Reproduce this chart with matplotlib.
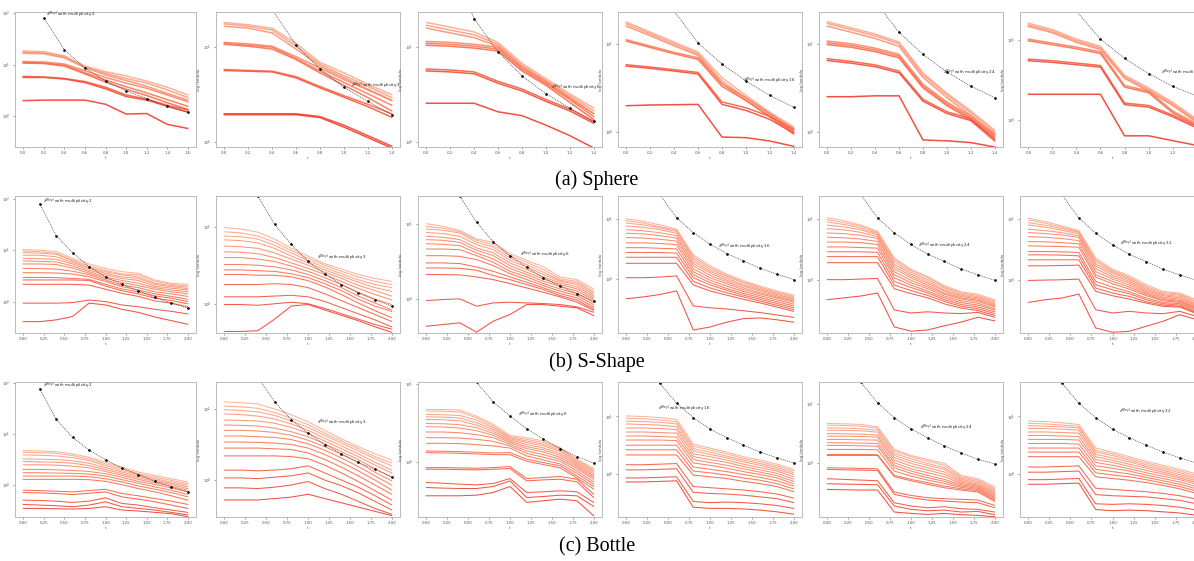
import matplotlib
matplotlib.use('Agg')
import matplotlib.pyplot as plt
import matplotlib.ticker as mticker
import numpy as np

# log10 of the eigenvalues, one row per eigenvalue (top line first)
t_sphere_1 = [0.0, 0.2, 0.4, 0.6, 0.8, 1.0, 1.2, 1.4, 1.6]
t_sphere = [0.0, 0.2, 0.4, 0.6, 0.8, 1.0, 1.2, 1.4]
t_shape = [0.0, 0.2, 0.4, 0.6, 0.8, 1.0, 1.2, 1.4, 1.6, 1.8, 2.0]

sphere_1 = [
    [1.26, 1.25, 1.17, 0.97, 0.86, 0.78, 0.68, 0.56, 0.41],
    [1.24, 1.23, 1.15, 0.95, 0.83, 0.73, 0.64, 0.51, 0.36],
    [1.22, 1.21, 1.13, 0.94, 0.80, 0.69, 0.58, 0.44, 0.31],
    [1.06, 1.05, 1.01, 0.88, 0.75, 0.64, 0.54, 0.41, 0.28],
    [1.04, 1.03, 0.99, 0.84, 0.70, 0.57, 0.45, 0.32, 0.19],
    [1.03, 1.02, 0.97, 0.82, 0.66, 0.52, 0.40, 0.26, 0.13],
    [0.77, 0.76, 0.73, 0.67, 0.56, 0.41, 0.33, 0.21, 0.12],
    [0.75, 0.75, 0.72, 0.65, 0.53, 0.38, 0.31, 0.19, 0.08],
    [0.30, 0.31, 0.31, 0.31, 0.23, 0.04, 0.05, -0.16, -0.24],
]
sphere_2 = [
    [1.26, 1.235, 1.20, 1.04, 0.84, 0.73, 0.61, 0.50],
    [1.245, 1.22, 1.18, 1.01, 0.82, 0.70, 0.59, 0.47],
    [1.22, 1.20, 1.15, 0.98, 0.80, 0.68, 0.56, 0.44],
    [1.05, 1.035, 1.01, 0.90, 0.78, 0.66, 0.55, 0.44],
    [1.04, 1.02, 1.00, 0.88, 0.75, 0.63, 0.51, 0.39],
    [1.03, 1.01, 0.98, 0.87, 0.73, 0.60, 0.47, 0.33],
    [0.765, 0.755, 0.747, 0.69, 0.586, 0.49, 0.40, 0.30],
    [0.754, 0.747, 0.74, 0.677, 0.572, 0.474, 0.375, 0.263],
    [0.30, 0.30, 0.30, 0.30, 0.27, 0.18, 0.07, -0.04],
    [0.29, 0.29, 0.29, 0.29, 0.26, 0.16, 0.05, -0.06],
]
sphere_3 = [
    [1.26, 1.21, 1.16, 1.05, 0.83, 0.67, 0.51, 0.36],
    [1.23, 1.18, 1.13, 1.03, 0.81, 0.65, 0.49, 0.33],
    [1.20, 1.15, 1.10, 1.01, 0.79, 0.62, 0.46, 0.30],
    [1.06, 1.05, 1.03, 1.00, 0.79, 0.64, 0.47, 0.30],
    [1.04, 1.03, 1.01, 0.98, 0.77, 0.62, 0.45, 0.27],
    [1.02, 1.01, 0.99, 0.96, 0.75, 0.60, 0.42, 0.24],
    [0.77, 0.76, 0.74, 0.64, 0.56, 0.45, 0.35, 0.22],
    [0.75, 0.74, 0.72, 0.62, 0.54, 0.43, 0.33, 0.20],
    [0.41, 0.41, 0.41, 0.32, 0.28, 0.18, 0.07, -0.06],
]
sphere_4 = [
    [1.245, 1.132, 1.019, 0.906, 0.615, 0.415, 0.226, 0.057],
    [1.226, 1.113, 1.0, 0.887, 0.577, 0.385, 0.2, 0.011],
    [1.2, 1.091, 0.977, 0.868, 0.547, 0.358, 0.17, -0.026],
    [1.045, 0.974, 0.902, 0.842, 0.547, 0.389, 0.208, 0.038],
    [1.03, 0.958, 0.887, 0.823, 0.517, 0.358, 0.177, 0.0],
    [0.762, 0.736, 0.706, 0.675, 0.34, 0.275, 0.177, 0.026],
    [0.747, 0.721, 0.691, 0.657, 0.313, 0.245, 0.143, -0.011],
    [0.298, 0.306, 0.309, 0.313, -0.057, -0.064, -0.102, -0.162],
]
sphere_5 = [
    [1.25, 1.18, 1.11, 1.02, 0.67, 0.44, 0.24, 0.02],
    [1.23, 1.16, 1.09, 1.00, 0.65, 0.42, 0.22, 0.0],
    [1.20, 1.13, 1.06, 0.97, 0.62, 0.39, 0.19, -0.03],
    [1.03, 1.00, 0.95, 0.88, 0.54, 0.34, 0.18, -0.02],
    [1.01, 0.98, 0.93, 0.86, 0.52, 0.32, 0.16, -0.04],
    [0.99, 0.96, 0.91, 0.84, 0.50, 0.30, 0.14, -0.06],
    [0.83, 0.80, 0.76, 0.69, 0.37, 0.23, 0.15, -0.08],
    [0.81, 0.78, 0.74, 0.67, 0.35, 0.21, 0.13, -0.10],
    [0.40, 0.40, 0.41, 0.41, -0.09, -0.10, -0.12, -0.17],
]
sphere_6 = [
    [1.21, 1.13, 1.01, 0.92, 0.56, 0.40, 0.22, 0.01],
    [1.19, 1.11, 0.99, 0.90, 0.54, 0.38, 0.20, -0.01],
    [1.17, 1.09, 0.97, 0.88, 0.52, 0.36, 0.18, -0.03],
    [1.01, 0.96, 0.91, 0.85, 0.43, 0.36, 0.11, -0.05],
    [0.99, 0.94, 0.89, 0.83, 0.41, 0.34, 0.09, -0.07],
    [0.76, 0.74, 0.71, 0.68, 0.21, 0.18, 0.06, -0.08],
    [0.74, 0.72, 0.69, 0.66, 0.19, 0.16, 0.04, -0.10],
    [0.32, 0.32, 0.32, 0.32, -0.20, -0.20, -0.26, -0.32],
]

sshape_1 = [
    [1.01, 1.00, 0.97, 0.84, 0.73, 0.645, 0.58, 0.55, 0.42, 0.355, 0.335],
    [0.98, 0.97, 0.935, 0.81, 0.69, 0.61, 0.535, 0.52, 0.39, 0.335, 0.30],
    [0.95, 0.94, 0.92, 0.79, 0.66, 0.58, 0.52, 0.48, 0.355, 0.31, 0.28],
    [0.90, 0.90, 0.87, 0.76, 0.645, 0.55, 0.48, 0.45, 0.335, 0.29, 0.25],
    [0.84, 0.83, 0.82, 0.73, 0.61, 0.52, 0.45, 0.41, 0.30, 0.26, 0.226],
    [0.79, 0.78, 0.77, 0.69, 0.58, 0.48, 0.41, 0.355, 0.27, 0.226, 0.19],
    [0.73, 0.73, 0.72, 0.65, 0.55, 0.45, 0.37, 0.31, 0.24, 0.19, 0.15],
    [0.645, 0.64, 0.63, 0.59, 0.52, 0.42, 0.32, 0.27, 0.19, 0.15, 0.10],
    [0.56, 0.56, 0.555, 0.535, 0.48, 0.39, 0.29, 0.226, 0.15, 0.10, 0.045],
    [0.47, 0.47, 0.465, 0.45, 0.43, 0.335, 0.245, 0.19, 0.11, 0.065, 0.0],
    [0.42, 0.42, 0.42, 0.42, 0.41, 0.30, 0.21, 0.15, 0.065, 0.02, -0.045],
    [0.335, 0.335, 0.335, 0.335, 0.32, 0.24, 0.16, 0.10, 0.013, -0.03, -0.10],
    [-0.03, -0.03, -0.03, -0.02, 0.03, 0.0, -0.065, -0.10, -0.15, -0.19, -0.24],
    [-0.39, -0.39, -0.355, -0.29, -0.03, -0.065, -0.15, -0.21, -0.30, -0.37, -0.44],
]
sshape_2 = [
    [0.99, 0.97, 0.93, 0.84, 0.72, 0.62, 0.52, 0.45, 0.38, 0.33, 0.29],
    [0.935, 0.92, 0.88, 0.80, 0.69, 0.59, 0.50, 0.42, 0.35, 0.29, 0.25],
    [0.88, 0.87, 0.84, 0.76, 0.66, 0.56, 0.47, 0.39, 0.31, 0.25, 0.21],
    [0.83, 0.82, 0.79, 0.72, 0.62, 0.53, 0.44, 0.36, 0.28, 0.21, 0.16],
    [0.75, 0.74, 0.72, 0.66, 0.58, 0.50, 0.41, 0.33, 0.24, 0.17, 0.10],
    [0.675, 0.67, 0.65, 0.60, 0.53, 0.46, 0.38, 0.29, 0.20, 0.12, 0.05],
    [0.60, 0.60, 0.58, 0.55, 0.49, 0.42, 0.34, 0.25, 0.15, 0.06, -0.01],
    [0.51, 0.51, 0.50, 0.48, 0.44, 0.38, 0.30, 0.21, 0.10, 0.01, -0.08],
    [0.44, 0.44, 0.43, 0.42, 0.39, 0.34, 0.26, 0.17, 0.06, -0.03, -0.10],
    [0.38, 0.38, 0.37, 0.37, 0.35, 0.30, 0.22, 0.12, 0.01, -0.09, -0.18],
    [0.25, 0.25, 0.25, 0.26, 0.25, 0.21, 0.13, 0.04, -0.05, -0.14, -0.23],
    [0.09, 0.09, 0.09, 0.10, 0.11, 0.09, 0.03, -0.05, -0.13, -0.21, -0.30],
    [-0.01, -0.01, -0.02, 0.0, 0.02, 0.0, -0.06, -0.13, -0.20, -0.27, -0.33],
    [-0.36, -0.36, -0.35, -0.20, -0.03, -0.01, -0.08, -0.15, -0.22, -0.30, -0.37],
]
sshape_3 = [
    [1.0, 0.964, 0.911, 0.796, 0.751, 0.60, 0.511, 0.422, 0.289, 0.253, 0.129],
    [0.964, 0.938, 0.893, 0.778, 0.72, 0.573, 0.484, 0.387, 0.262, 0.231, 0.098],
    [0.929, 0.911, 0.876, 0.751, 0.689, 0.542, 0.453, 0.351, 0.244, 0.209, 0.076],
    [0.884, 0.867, 0.831, 0.72, 0.653, 0.511, 0.422, 0.32, 0.231, 0.187, 0.053],
    [0.831, 0.818, 0.787, 0.676, 0.609, 0.476, 0.387, 0.289, 0.209, 0.156, 0.031],
    [0.787, 0.778, 0.751, 0.644, 0.573, 0.44, 0.351, 0.262, 0.187, 0.129, 0.009],
    [0.733, 0.724, 0.707, 0.609, 0.529, 0.404, 0.32, 0.231, 0.164, 0.098, -0.013],
    [0.662, 0.662, 0.653, 0.573, 0.484, 0.364, 0.289, 0.2, 0.129, 0.067, -0.049],
    [0.573, 0.573, 0.564, 0.52, 0.44, 0.333, 0.253, 0.173, 0.098, 0.04, -0.08],
    [0.476, 0.476, 0.467, 0.422, 0.364, 0.289, 0.218, 0.142, 0.067, 0.009, -0.111],
    [0.409, 0.409, 0.404, 0.378, 0.307, 0.253, 0.187, 0.12, 0.04, -0.022, -0.138],
    [0.32, 0.32, 0.316, 0.289, 0.253, 0.2, 0.142, 0.084, 0.022, -0.049, -0.156],
    [-0.027, -0.013, -0.004, -0.102, -0.058, -0.049, -0.058, -0.067, -0.08, -0.111, -0.182],
    [-0.369, -0.347, -0.324, -0.449, -0.302, -0.213, -0.08, -0.08, -0.102, -0.124, -0.227],
]
sshape_4 = [
    [1.00, 0.96, 0.90, 0.83, 0.40, 0.22, 0.08, -0.03, -0.12, -0.20, -0.27],
    [0.97, 0.93, 0.87, 0.81, 0.37, 0.19, 0.06, -0.05, -0.14, -0.22, -0.29],
    [0.93, 0.90, 0.85, 0.79, 0.34, 0.16, 0.04, -0.07, -0.16, -0.24, -0.31],
    [0.88, 0.86, 0.82, 0.76, 0.30, 0.13, 0.01, -0.10, -0.18, -0.26, -0.33],
    [0.82, 0.80, 0.77, 0.72, 0.26, 0.10, -0.02, -0.12, -0.20, -0.28, -0.35],
    [0.76, 0.75, 0.72, 0.68, 0.22, 0.06, -0.05, -0.15, -0.23, -0.30, -0.37],
    [0.69, 0.68, 0.66, 0.63, 0.17, 0.02, -0.08, -0.18, -0.25, -0.32, -0.39],
    [0.60, 0.60, 0.59, 0.57, 0.12, -0.02, -0.12, -0.21, -0.28, -0.35, -0.42],
    [0.52, 0.52, 0.51, 0.50, 0.07, -0.06, -0.16, -0.24, -0.31, -0.38, -0.45],
    [0.44, 0.44, 0.44, 0.43, 0.02, -0.10, -0.19, -0.27, -0.34, -0.41, -0.48],
    [0.36, 0.36, 0.36, 0.36, -0.04, -0.15, -0.23, -0.30, -0.37, -0.44, -0.51],
    [0.26, 0.26, 0.26, 0.26, -0.10, -0.20, -0.27, -0.34, -0.40, -0.47, -0.54],
    [0.02, 0.02, 0.03, 0.05, -0.45, -0.48, -0.50, -0.53, -0.56, -0.60, -0.64],
    [-0.33, -0.30, -0.26, -0.20, -0.85, -0.80, -0.72, -0.66, -0.65, -0.68, -0.72],
]
sshape_5 = [
    [1.02, 0.97, 0.90, 0.80, 0.36, 0.17, 0.05, -0.10, -0.20, -0.24, -0.33],
    [0.99, 0.94, 0.88, 0.78, 0.33, 0.15, 0.03, -0.12, -0.22, -0.26, -0.35],
    [0.95, 0.91, 0.85, 0.76, 0.30, 0.12, 0.0, -0.14, -0.24, -0.28, -0.37],
    [0.90, 0.87, 0.82, 0.74, 0.26, 0.09, -0.03, -0.17, -0.26, -0.30, -0.39],
    [0.84, 0.82, 0.78, 0.71, 0.22, 0.06, -0.06, -0.19, -0.28, -0.32, -0.41],
    [0.77, 0.76, 0.73, 0.68, 0.18, 0.03, -0.09, -0.22, -0.30, -0.34, -0.43],
    [0.70, 0.69, 0.67, 0.63, 0.13, -0.01, -0.12, -0.24, -0.32, -0.36, -0.45],
    [0.62, 0.62, 0.61, 0.58, 0.08, -0.05, -0.15, -0.27, -0.35, -0.39, -0.48],
    [0.54, 0.54, 0.53, 0.52, 0.03, -0.09, -0.19, -0.30, -0.38, -0.42, -0.50],
    [0.46, 0.46, 0.46, 0.45, -0.03, -0.13, -0.22, -0.33, -0.41, -0.45, -0.53],
    [0.38, 0.38, 0.38, 0.38, -0.09, -0.18, -0.26, -0.36, -0.44, -0.48, -0.56],
    [0.28, 0.28, 0.28, 0.28, -0.15, -0.23, -0.30, -0.40, -0.47, -0.51, -0.59],
    [0.0, 0.0, 0.01, 0.02, -0.50, -0.55, -0.53, -0.55, -0.56, -0.54, -0.62],
    [-0.33, -0.30, -0.27, -0.22, -0.78, -0.85, -0.83, -0.76, -0.70, -0.62, -0.68],
]
sshape_6 = [
    [1.016, 0.962, 0.89, 0.813, 0.357, 0.176, 0.066, -0.082, -0.192, -0.22, -0.33],
    [0.989, 0.934, 0.868, 0.797, 0.33, 0.154, 0.044, -0.11, -0.209, -0.236, -0.357],
    [0.945, 0.901, 0.846, 0.78, 0.302, 0.132, 0.022, -0.132, -0.231, -0.253, -0.374],
    [0.907, 0.868, 0.819, 0.758, 0.264, 0.11, 0.0, -0.154, -0.247, -0.275, -0.396],
    [0.835, 0.813, 0.78, 0.725, 0.231, 0.077, -0.027, -0.176, -0.264, -0.297, -0.412],
    [0.78, 0.764, 0.742, 0.698, 0.187, 0.044, -0.055, -0.198, -0.286, -0.319, -0.429],
    [0.714, 0.703, 0.681, 0.648, 0.137, 0.011, -0.088, -0.22, -0.308, -0.341, -0.451],
    [0.632, 0.626, 0.615, 0.593, 0.082, -0.027, -0.121, -0.242, -0.33, -0.357, -0.467],
    [0.56, 0.555, 0.549, 0.538, 0.044, -0.066, -0.154, -0.264, -0.346, -0.374, -0.484],
    [0.467, 0.467, 0.462, 0.451, -0.027, -0.121, -0.198, -0.302, -0.374, -0.396, -0.505],
    [0.412, 0.412, 0.407, 0.396, -0.082, -0.165, -0.231, -0.33, -0.396, -0.418, -0.527],
    [0.33, 0.33, 0.33, 0.33, -0.137, -0.22, -0.275, -0.363, -0.418, -0.44, -0.549],
    [0.231, 0.231, 0.236, 0.242, -0.192, -0.264, -0.319, -0.385, -0.44, -0.451, -0.56],
    [-0.011, -0.005, 0.0, 0.011, -0.495, -0.549, -0.522, -0.549, -0.56, -0.522, -0.604],
    [-0.374, -0.33, -0.302, -0.236, -0.797, -0.868, -0.852, -0.769, -0.687, -0.577, -0.659],
]

bottle_1 = [
    [0.677, 0.671, 0.658, 0.613, 0.548, 0.452, 0.355, 0.258, 0.194, 0.129, 0.065],
    [0.645, 0.639, 0.626, 0.581, 0.516, 0.419, 0.323, 0.226, 0.161, 0.097, 0.032],
    [0.594, 0.587, 0.574, 0.542, 0.484, 0.387, 0.29, 0.206, 0.129, 0.065, 0.0],
    [0.516, 0.51, 0.503, 0.477, 0.432, 0.348, 0.258, 0.181, 0.103, 0.039, -0.032],
    [0.465, 0.458, 0.452, 0.432, 0.387, 0.31, 0.226, 0.148, 0.077, 0.013, -0.065],
    [0.40, 0.40, 0.394, 0.374, 0.342, 0.271, 0.194, 0.116, 0.045, -0.019, -0.097],
    [0.31, 0.31, 0.303, 0.29, 0.271, 0.226, 0.155, 0.077, 0.013, -0.052, -0.129],
    [0.245, 0.245, 0.239, 0.232, 0.219, 0.181, 0.11, 0.039, -0.032, -0.097, -0.181],
    [0.181, 0.181, 0.181, 0.181, 0.168, 0.129, 0.065, -0.013, -0.077, -0.142, -0.226],
    [0.116, 0.116, 0.116, 0.116, 0.11, 0.077, 0.013, -0.065, -0.129, -0.206, -0.29],
    [-0.097, -0.103, -0.116, -0.129, -0.103, -0.077, -0.161, -0.206, -0.258, -0.31, -0.374],
    [-0.142, -0.148, -0.161, -0.181, -0.155, -0.129, -0.226, -0.271, -0.323, -0.387, -0.452],
    [-0.29, -0.297, -0.31, -0.335, -0.31, -0.245, -0.355, -0.387, -0.439, -0.484, -0.529],
    [-0.374, -0.387, -0.40, -0.419, -0.387, -0.323, -0.419, -0.452, -0.484, -0.529, -0.581],
    [-0.452, -0.452, -0.458, -0.465, -0.452, -0.419, -0.484, -0.503, -0.529, -0.555, -0.613],
]
bottle_2 = [
    [1.10, 1.09, 1.07, 1.00, 0.92, 0.82, 0.70, 0.58, 0.47, 0.37, 0.28],
    [1.04, 1.03, 1.01, 0.95, 0.87, 0.78, 0.66, 0.55, 0.44, 0.33, 0.24],
    [0.99, 0.98, 0.96, 0.91, 0.83, 0.74, 0.63, 0.52, 0.41, 0.30, 0.20],
    [0.93, 0.92, 0.90, 0.86, 0.79, 0.70, 0.59, 0.48, 0.37, 0.25, 0.14],
    [0.845, 0.84, 0.83, 0.80, 0.74, 0.66, 0.55, 0.44, 0.33, 0.21, 0.10],
    [0.775, 0.77, 0.76, 0.73, 0.68, 0.61, 0.51, 0.40, 0.29, 0.16, 0.04],
    [0.70, 0.70, 0.69, 0.67, 0.63, 0.56, 0.47, 0.36, 0.25, 0.11, -0.01],
    [0.62, 0.62, 0.61, 0.60, 0.57, 0.51, 0.42, 0.31, 0.19, 0.06, -0.07],
    [0.535, 0.535, 0.53, 0.52, 0.50, 0.45, 0.36, 0.25, 0.13, 0.0, -0.14],
    [0.45, 0.45, 0.45, 0.44, 0.43, 0.38, 0.29, 0.18, 0.06, -0.07, -0.20],
    [0.34, 0.34, 0.34, 0.34, 0.33, 0.30, 0.21, 0.10, -0.02, -0.15, -0.28],
    [0.14, 0.14, 0.13, 0.14, 0.16, 0.20, 0.10, 0.0, -0.10, -0.22, -0.35],
    [0.03, 0.03, 0.02, 0.04, 0.06, 0.10, 0.0, -0.08, -0.18, -0.30, -0.42],
    [-0.11, -0.11, -0.12, -0.10, -0.07, -0.02, -0.12, -0.20, -0.30, -0.40, -0.48],
    [-0.28, -0.28, -0.28, -0.26, -0.24, -0.20, -0.26, -0.32, -0.38, -0.44, -0.50],
]
bottle_3 = [
    [0.668, 0.668, 0.66, 0.583, 0.477, 0.336, 0.306, 0.264, 0.179, 0.03, -0.089],
    [0.647, 0.647, 0.634, 0.562, 0.455, 0.319, 0.285, 0.243, 0.166, 0.021, -0.106],
    [0.604, 0.60, 0.591, 0.532, 0.434, 0.306, 0.264, 0.221, 0.149, 0.004, -0.123],
    [0.574, 0.57, 0.557, 0.498, 0.413, 0.294, 0.243, 0.20, 0.132, -0.013, -0.14],
    [0.54, 0.536, 0.523, 0.468, 0.387, 0.277, 0.217, 0.174, 0.106, -0.03, -0.162],
    [0.489, 0.485, 0.472, 0.434, 0.362, 0.26, 0.191, 0.149, 0.081, -0.047, -0.183],
    [0.447, 0.443, 0.43, 0.396, 0.336, 0.243, 0.166, 0.123, 0.055, -0.068, -0.204],
    [0.379, 0.379, 0.37, 0.345, 0.306, 0.221, 0.136, 0.089, 0.03, -0.089, -0.226],
    [0.306, 0.306, 0.302, 0.285, 0.26, 0.20, 0.106, 0.055, 0.004, -0.119, -0.26],
    [0.234, 0.234, 0.23, 0.217, 0.20, 0.174, 0.072, 0.021, -0.03, -0.149, -0.289],
    [0.136, 0.132, 0.128, 0.119, 0.111, 0.115, 0.03, -0.013, -0.055, -0.183, -0.319],
    [0.115, 0.111, 0.106, 0.098, 0.089, 0.089, 0.004, -0.038, -0.081, -0.209, -0.353],
    [-0.077, -0.077, -0.081, -0.085, -0.077, -0.064, -0.217, -0.204, -0.191, -0.226, -0.417],
    [-0.098, -0.098, -0.102, -0.106, -0.098, -0.089, -0.247, -0.234, -0.226, -0.26, -0.46],
    [-0.268, -0.277, -0.289, -0.298, -0.281, -0.217, -0.396, -0.387, -0.374, -0.387, -0.523],
    [-0.332, -0.34, -0.345, -0.345, -0.319, -0.247, -0.46, -0.447, -0.43, -0.438, -0.574],
    [-0.438, -0.438, -0.438, -0.43, -0.396, -0.319, -0.523, -0.502, -0.481, -0.502, -0.694],
]
bottle_4 = [
    [1.01, 1.00, 0.98, 0.95, 0.52, 0.45, 0.38, 0.30, 0.24, 0.17, 0.08],
    [0.97, 0.96, 0.94, 0.91, 0.48, 0.42, 0.35, 0.27, 0.21, 0.14, 0.05],
    [0.92, 0.91, 0.90, 0.87, 0.44, 0.38, 0.31, 0.24, 0.18, 0.11, 0.02],
    [0.87, 0.86, 0.85, 0.82, 0.40, 0.34, 0.28, 0.21, 0.15, 0.08, -0.01],
    [0.80, 0.80, 0.79, 0.77, 0.35, 0.30, 0.24, 0.17, 0.11, 0.05, -0.05],
    [0.73, 0.73, 0.72, 0.71, 0.30, 0.25, 0.20, 0.13, 0.07, 0.01, -0.09],
    [0.66, 0.66, 0.65, 0.64, 0.25, 0.20, 0.15, 0.09, 0.03, -0.03, -0.13],
    [0.59, 0.59, 0.59, 0.58, 0.19, 0.15, 0.10, 0.04, -0.01, -0.07, -0.17],
    [0.50, 0.50, 0.50, 0.50, 0.12, 0.08, 0.04, -0.01, -0.06, -0.12, -0.21],
    [0.42, 0.42, 0.42, 0.42, 0.05, 0.02, -0.02, -0.07, -0.11, -0.17, -0.26],
    [0.33, 0.33, 0.33, 0.33, -0.02, -0.05, -0.08, -0.13, -0.17, -0.22, -0.31],
    [0.16, 0.16, 0.17, 0.18, -0.22, -0.24, -0.26, -0.28, -0.31, -0.35, -0.42],
    [0.07, 0.07, 0.08, 0.09, -0.32, -0.34, -0.35, -0.37, -0.40, -0.43, -0.50],
    [-0.07, -0.07, -0.06, -0.05, -0.48, -0.50, -0.49, -0.50, -0.52, -0.55, -0.60],
    [-0.14, -0.14, -0.13, -0.12, -0.58, -0.60, -0.60, -0.61, -0.63, -0.66, -0.70],
]
bottle_5 = [
    [0.667, 0.661, 0.65, 0.61, 0.226, 0.124, 0.056, -0.011, -0.215, -0.271, -0.407],
    [0.638, 0.633, 0.621, 0.588, 0.198, 0.102, 0.028, -0.045, -0.237, -0.294, -0.429],
    [0.593, 0.588, 0.576, 0.554, 0.158, 0.068, -0.011, -0.085, -0.26, -0.316, -0.452],
    [0.554, 0.548, 0.542, 0.52, 0.124, 0.028, -0.045, -0.113, -0.282, -0.339, -0.475],
    [0.497, 0.492, 0.486, 0.469, 0.085, -0.011, -0.085, -0.158, -0.305, -0.362, -0.497],
    [0.452, 0.452, 0.446, 0.435, 0.045, -0.056, -0.124, -0.198, -0.328, -0.384, -0.52],
    [0.395, 0.395, 0.39, 0.384, 0.0, -0.102, -0.169, -0.237, -0.35, -0.395, -0.542],
    [0.339, 0.339, 0.333, 0.328, -0.045, -0.141, -0.215, -0.282, -0.373, -0.418, -0.565],
    [0.294, 0.294, 0.288, 0.282, -0.085, -0.181, -0.254, -0.316, -0.395, -0.435, -0.588],
    [0.226, 0.226, 0.226, 0.22, -0.141, -0.226, -0.294, -0.35, -0.418, -0.452, -0.61],
    [0.141, 0.141, 0.141, 0.136, -0.215, -0.282, -0.339, -0.395, -0.441, -0.475, -0.633],
    [0.124, 0.124, 0.124, 0.124, -0.237, -0.305, -0.367, -0.424, -0.463, -0.497, -0.655],
    [-0.085, -0.09, -0.096, -0.102, -0.497, -0.554, -0.593, -0.61, -0.621, -0.633, -0.723],
    [-0.113, -0.119, -0.124, -0.13, -0.537, -0.593, -0.633, -0.65, -0.667, -0.678, -0.763],
    [-0.271, -0.282, -0.294, -0.305, -0.678, -0.734, -0.763, -0.746, -0.78, -0.791, -0.836],
    [-0.356, -0.362, -0.367, -0.373, -0.734, -0.791, -0.814, -0.802, -0.836, -0.825, -0.881],
    [-0.452, -0.458, -0.463, -0.463, -0.836, -0.859, -0.876, -0.859, -0.881, -0.893, -0.915],
]
bottle_6 = [
    [0.92, 0.91, 0.89, 0.86, 0.45, 0.38, 0.30, 0.22, 0.15, 0.08, 0.0],
    [0.88, 0.87, 0.85, 0.83, 0.41, 0.35, 0.27, 0.19, 0.12, 0.05, -0.03],
    [0.84, 0.83, 0.82, 0.80, 0.38, 0.32, 0.24, 0.16, 0.09, 0.02, -0.06],
    [0.79, 0.79, 0.78, 0.76, 0.34, 0.28, 0.21, 0.13, 0.06, -0.01, -0.09],
    [0.73, 0.73, 0.72, 0.71, 0.30, 0.24, 0.17, 0.10, 0.03, -0.04, -0.12],
    [0.67, 0.67, 0.66, 0.65, 0.25, 0.20, 0.13, 0.06, 0.0, -0.07, -0.15],
    [0.60, 0.60, 0.60, 0.59, 0.20, 0.15, 0.09, 0.02, -0.04, -0.10, -0.18],
    [0.53, 0.53, 0.53, 0.52, 0.14, 0.10, 0.05, -0.02, -0.08, -0.14, -0.22],
    [0.45, 0.45, 0.45, 0.45, 0.08, 0.04, 0.0, -0.06, -0.12, -0.18, -0.26],
    [0.38, 0.38, 0.38, 0.38, 0.02, -0.02, -0.05, -0.10, -0.16, -0.22, -0.30],
    [0.30, 0.30, 0.30, 0.30, -0.05, -0.08, -0.11, -0.15, -0.20, -0.26, -0.34],
    [0.12, 0.12, 0.13, 0.14, -0.25, -0.27, -0.29, -0.31, -0.34, -0.38, -0.44],
    [0.03, 0.03, 0.04, 0.05, -0.36, -0.38, -0.39, -0.40, -0.43, -0.46, -0.52],
    [-0.10, -0.10, -0.09, -0.08, -0.52, -0.53, -0.52, -0.53, -0.55, -0.58, -0.63],
    [-0.18, -0.18, -0.17, -0.16, -0.62, -0.64, -0.63, -0.64, -0.66, -0.68, -0.72],
]

# Weyl law curves (log10), from t = 0.2 on
weyl_sphere_1 = [1.90, 1.29, 0.93, 0.68, 0.49, 0.34, 0.19, 0.07]
weyl_sphere_2 = [2.0, 1.40, 1.02, 0.77, 0.58, 0.43, 0.29]
weyl_sphere_3 = [1.90, 1.30, 0.95, 0.70, 0.51, 0.36, 0.22]
weyl_sphere_4 = [2.0, 1.37, 1.01, 0.77, 0.58, 0.415, 0.28]
weyl_sphere_5 = [2.1, 1.48, 1.13, 0.88, 0.68, 0.52, 0.39]
weyl_sphere_6 = [1.96, 1.36, 1.01, 0.77, 0.58, 0.42, 0.30]
weyl_sshape_1 = [1.90, 1.28, 0.95, 0.68, 0.48, 0.335, 0.21, 0.08, -0.03, -0.13]
weyl_sshape_2 = [2.1, 1.40, 1.03, 0.77, 0.55, 0.39, 0.25, 0.14, 0.05, -0.03]
weyl_sshape_3 = [1.97, 1.37, 1.02, 0.76, 0.57, 0.42, 0.275, 0.165, 0.067, -0.03]
weyl_sshape_4 = [2.0, 1.40, 1.02, 0.77, 0.58, 0.42, 0.30, 0.176, 0.08, -0.01]
weyl_sshape_5 = [2.0, 1.40, 1.02, 0.77, 0.58, 0.42, 0.30, 0.176, 0.08, -0.01]
weyl_sshape_6 = [2.0, 1.40, 1.02, 0.77, 0.58, 0.42, 0.30, 0.176, 0.08, -0.01]
weyl_bottle_1 = [1.89, 1.29, 0.935, 0.69, 0.50, 0.335, 0.21, 0.077, -0.03, -0.13]
weyl_bottle_2 = [2.05, 1.45, 1.10, 0.85, 0.66, 0.50, 0.37, 0.25, 0.15, 0.05]
weyl_bottle_3 = [1.97, 1.368, 1.016, 0.766, 0.583, 0.421, 0.285, 0.166, 0.064, -0.02]
weyl_bottle_4 = [2.2, 1.58, 1.23, 0.98, 0.78, 0.63, 0.50, 0.38, 0.28, 0.19]
weyl_bottle_5 = [1.97, 1.37, 1.017, 0.763, 0.576, 0.424, 0.282, 0.169, 0.056, -0.017]
weyl_bottle_6 = [2.2, 1.58, 1.23, 0.98, 0.78, 0.63, 0.50, 0.38, 0.28, 0.19]

multiplicity = [2, 3, 6, 16, 24, 32]
captions = ['(a) Sphere', '(b) S-Shape', '(c) Bottle']

rows = [
    [sphere_1, sphere_2, sphere_3, sphere_4, sphere_5, sphere_6],
    [sshape_1, sshape_2, sshape_3, sshape_4, sshape_5, sshape_6],
    [bottle_1, bottle_2, bottle_3, bottle_4, bottle_5, bottle_6],
]
weyl_rows = [
    [weyl_sphere_1, weyl_sphere_2, weyl_sphere_3, weyl_sphere_4, weyl_sphere_5, weyl_sphere_6],
    [weyl_sshape_1, weyl_sshape_2, weyl_sshape_3, weyl_sshape_4, weyl_sshape_5, weyl_sshape_6],
    [weyl_bottle_1, weyl_bottle_2, weyl_bottle_3, weyl_bottle_4, weyl_bottle_5, weyl_bottle_6],
]

ylims = [
    [(-0.60, 2.02), (-0.05, 1.37), (-0.05, 1.37), (-0.17, 1.36), (-0.17, 1.36), (-0.34, 1.35)],
    [(-0.61, 2.05), (-0.38, 1.40), (-0.46, 1.37), (-0.90, 1.38), (-0.88, 1.38), (-0.88, 1.385)],
    [(-0.62, 2.02), (-0.52, 1.38), (-0.71, 1.02), (-0.75, 1.60), (-0.92, 1.37), (-0.75, 1.60)],
]
label_pos = [
    [(0.22, 1.96), (1.06, 0.59), (1.04, 0.57), (0.98, 0.58), (0.97, 0.67), (1.10, 0.59)],
    [(0.24, 1.94), (1.11, 0.60), (1.12, 0.59), (1.10, 0.53), (1.08, 0.56), (1.09, 0.60)],
    [(0.24, 1.95), (1.11, 0.80), (1.10, 0.60), (0.38, 1.13), (1.11, 0.60), (1.08, 1.08)],
]

W, H = 1194, 561
fig = plt.figure(figsize=(W / 100, H / 100), dpi=100)

col_left = [15, 216, 418, 618, 819, 1020]
col_width = [181, 184, 184, 184, 184, 185]
row_top = [12, 196, 382]
row_height = [135, 137, 135]
caption_y = [180, 362, 547]

for r in range(3):
    for c in range(6):
        ax = fig.add_axes([col_left[c] / W, 1 - (row_top[r] + row_height[r]) / H,
                           col_width[c] / W, row_height[r] / H])
        if r == 0:
            t = t_sphere_1 if c == 0 else t_sphere
            lw = 1.1
        else:
            t = t_shape
            lw = 0.75
        lines = rows[r][c]
        n = len(lines)
        for i, ln in enumerate(lines):
            col = plt.cm.Reds(0.30 + 0.32 * i / (n - 1))
            ax.plot(t, 10 ** np.array(ln), color=col, lw=lw, alpha=0.9)
        ax.plot(t[1:], 10 ** np.array(weyl_rows[r][c]), color='#444444', lw=0.5,
                ls=(0, (1.5, 1.2)), marker='.', ms=1.8, mfc='black', mec='black')
        lx, ly = label_pos[r][c]
        ax.text(lx, 10 ** ly, r'$\lambda^{\rm Weyl}$ with multiplicity %d' % multiplicity[c],
                fontsize=3.0, ha='left', va='center', color='#222222')
        ax.set_yscale('log')
        lo, hi = ylims[r][c]
        ax.set_ylim(10 ** lo, 10 ** hi)
        ax.yaxis.set_minor_locator(mticker.NullLocator())
        if r == 0:
            ax.set_xticks(t)
            ax.xaxis.set_major_formatter(mticker.FormatStrFormatter('%.1f'))
        else:
            ax.set_xticks(np.arange(0, 2.01, 0.25))
            ax.xaxis.set_major_formatter(mticker.FormatStrFormatter('%.2f'))
        ax.tick_params(labelsize=2.8, length=1.5, width=0.4, pad=1.5, colors='#555555')
        ax.set_xlabel('t', fontsize=2.8, labelpad=0.5, color='#555555')
        ax.set_ylabel('log lambda', fontsize=2.8, labelpad=1.5, color='#555555')
        for s in ax.spines.values():
            s.set_color('#bbbbbb')
            s.set_linewidth(0.7)
    fig.text(597 / W, 1 - caption_y[r] / H, captions[r], fontsize=14.5,
             family='Liberation Serif', ha='center', va='center')

fig.savefig('out.png', dpi=100)
